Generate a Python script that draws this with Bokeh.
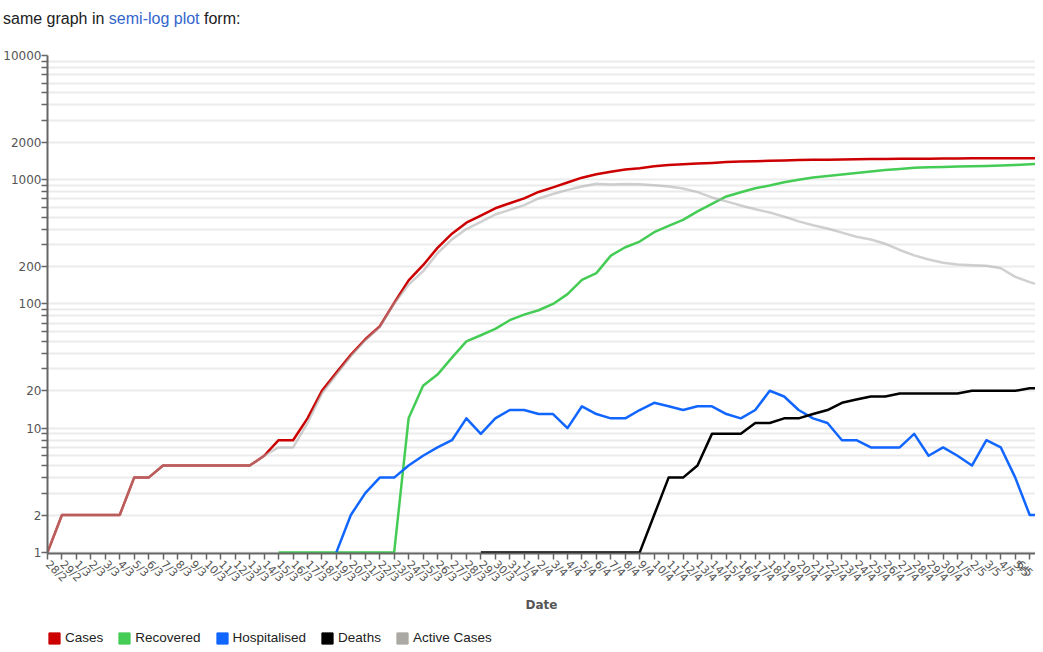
import math
from bokeh.plotting import figure
from bokeh.models import (FixedTicker, Legend, LegendItem, Div, Range1d,
                          PrintfTickFormatter)
from bokeh.layouts import column
from bokeh.embed import file_html
from bokeh.resources import INLINE

# ---------------- data ----------------
months = [("2", [28, 29]), ("3", list(range(1, 32))), ("4", list(range(1, 31))), ("5", list(range(1, 8)))]
dates = [f"{d}/{m}" for m, days in months for d in days]   # 28/2 ... 7/5

cases = [1, 2, 2, 2, 2, 2, 4, 4, 5, 5, 5, 5, 5, 5, 5, 6, 8, 8,
         12, 20, 28, 39, 52, 66, 102, 155, 205, 283, 368, 451, 514, 589, 647, 708,
         797, 868, 950, 1039, 1106, 1160, 1210, 1239, 1283, 1312, 1330, 1349, 1366,
         1386, 1401, 1409, 1422, 1431, 1440, 1445, 1451, 1456, 1461, 1470, 1469, 1472,
         1474, 1476, 1479, 1485, 1487, 1487, 1488, 1489, 1490, 1492]

recovered = [None] * 16 + [1, 1, 1, 1, 1, 1, 1, 1, 1,
             12, 22, 27, 37, 50, 56, 63, 74, 82, 89, 100, 120, 156, 177, 245, 286, 318,
             378, 425, 475, 556, 640, 733, 793, 854, 900, 955, 1000, 1040, 1070, 1100,
             1135, 1165, 1195, 1220, 1250, 1260, 1268, 1276, 1284, 1292, 1300, 1315, 1330, 1345]

hospitalised = [None] * 20 + [1, 2, 3, 4, 4, 5, 6, 7, 8, 12, 9, 12, 14, 14, 13, 13, 10, 15,
                13, 12, 12, 14, 16, 15, 14, 15, 15, 13, 12, 14, 20, 18, 14, 12, 11, 8, 8,
                7, 7, 7, 9, 6, 7, 6, 5, 8, 7, 4, 2, 2]

deaths = [None] * 30 + [1, 1, 1, 1, 1, 1, 1, 1, 1, 1, 1, 1, 2, 4, 4, 5, 9, 9, 9, 11, 11,
          12, 12, 13, 14, 16, 17, 18, 18, 19, 19, 19, 19, 19, 20, 20, 20, 20, 21, 21]

active = [1, 2, 2, 2, 2, 2, 4, 4, 5, 5, 5, 5, 5, 5, 5, 6, 7, 7,
          11, 19, 27, 38, 51, 65, 101, 143, 183, 256, 331, 401, 457, 525, 572, 625,
          707, 767, 829, 882, 928, 914, 923, 920, 903, 883, 851, 795, 720, 670, 620,
          578, 545, 505, 462, 430, 405, 375, 348, 330, 305, 272, 246, 228, 215, 208,
          205, 203, 194, 165, 150, 138]

series_names = ["Cases", "Recovered", "Hospitalised", "Deaths", "Active Cases"]
series_values = [cases, recovered, hospitalised, deaths, active]
line_colors = ["#cc0000", "#44cc55", "#1166ff", "#000000", "#aaaaaa"]
line_alphas = [1.0, 1.0, 1.0, 1.0, 0.55]
legend_colors = ["#cc0000", "#44cc55", "#1166ff", "#000000", "#aaa9a3"]

y_ticks = [1, 2, 10, 20, 100, 200, 1000, 2000, 10000]
y_minor = [m * 10 ** k for k in range(4) for m in range(3, 10)]

# ---------------- page ----------------
header = Div(
    text='same graph in <span style="color:#3366cc">semi-log plot</span> form:',
    styles={"font-family": "Liberation Sans, Arial, sans-serif", "font-size": "16px",
            "color": "#202122"},
    width=600, height=30, margin=(8, 0, 0, 3))

p = figure(width=1035, height=583, x_range=Range1d(0, 68.4), y_range=Range1d(0.98, 10000),
           y_axis_type="log", output_backend="svg", toolbar_location=None,
           min_border_left=30, min_border_right=0, min_border_top=17, min_border_bottom=68)
p.outline_line_color = None
p.background_fill_color = "white"

x_idx = list(range(len(dates)))
for vals, col, a in zip(series_values, line_colors, line_alphas):
    xs = [i for i, v in zip(x_idx, vals) if v is not None]
    ys = [v for v in vals if v is not None]
    p.line(xs, ys, line_color=col, line_alpha=a, line_width=2.5, line_join="round")

# y axis
p.yaxis.ticker = FixedTicker(ticks=y_ticks, minor_ticks=y_minor)
p.yaxis.formatter = PrintfTickFormatter(format="%d")
p.yaxis.axis_line_color = "#666666"
p.yaxis.axis_line_width = 2
p.yaxis.major_tick_out = 6
p.yaxis.major_tick_in = 0
p.yaxis.minor_tick_out = 6
p.yaxis.minor_tick_in = 0
p.yaxis.major_tick_line_color = "#666666"
p.yaxis.minor_tick_line_color = "#666666"
p.yaxis.major_tick_line_width = 1.5
p.yaxis.minor_tick_line_width = 1.5
p.yaxis.major_label_text_font = "DejaVu Sans"
p.yaxis.major_label_text_font_size = "12px"
p.yaxis.major_label_text_color = "#555555"
p.yaxis.major_label_standoff = 0

p.ygrid.ticker = FixedTicker(ticks=y_ticks, minor_ticks=y_minor)
p.ygrid.grid_line_color = "#ebebeb"
p.ygrid.grid_line_width = 2
p.ygrid.minor_grid_line_color = "#ebebeb"
p.ygrid.minor_grid_line_width = 2
p.xgrid.visible = False

# x axis
p.xaxis.ticker = FixedTicker(ticks=x_idx)
p.xaxis.major_label_overrides = {i: d for i, d in zip(x_idx, dates)}
p.xaxis.major_label_orientation = -math.pi / 4
p.xaxis.major_label_text_font = "DejaVu Sans"
p.xaxis.major_label_text_font_size = "11px"
p.xaxis.major_label_text_color = "#555555"
p.xaxis.major_label_standoff = 3
p.xaxis.axis_line_color = "#666666"
p.xaxis.axis_line_width = 2
p.xaxis.major_tick_out = 6
p.xaxis.major_tick_in = 0
p.xaxis.major_tick_line_color = "#666666"
p.xaxis.major_tick_line_width = 1.5
p.xaxis.axis_label = "Date"
p.xaxis.axis_label_text_font = "DejaVu Sans"
p.xaxis.axis_label_text_font_style = "bold"
p.xaxis.axis_label_text_font_size = "12px"
p.xaxis.axis_label_text_color = "#555555"
p.xaxis.axis_label_standoff = 6

# ---------------- legend strip ----------------
lg = figure(width=1035, height=31, x_range=Range1d(0, 1), y_range=Range1d(0, 1),
            output_backend="svg", toolbar_location=None,
            x_axis_location=None, y_axis_location=None, min_border=0)
lg.outline_line_color = None
lg.grid.visible = False

nan = float("nan")
items = []
for name, col in zip(series_names, legend_colors):
    r = lg.quad(left=[nan], right=[nan], top=[nan], bottom=[nan], fill_color=col, line_color=col)
    items.append(LegendItem(label=name, renderers=[r]))
legend = Legend(items=items, orientation="horizontal", location=(0, 7),
                label_text_font="Liberation Sans", label_text_font_size="13.5px",
                label_text_color="#222222", glyph_width=14, glyph_height=14,
                label_height=14, label_standoff=4, spacing=14, padding=0, margin=0,
                border_line_color=None, background_fill_alpha=0)
lg.add_layout(legend)

layout = column(header, p, lg, spacing=0)
open("out.html", "w").write(file_html(layout, INLINE))
